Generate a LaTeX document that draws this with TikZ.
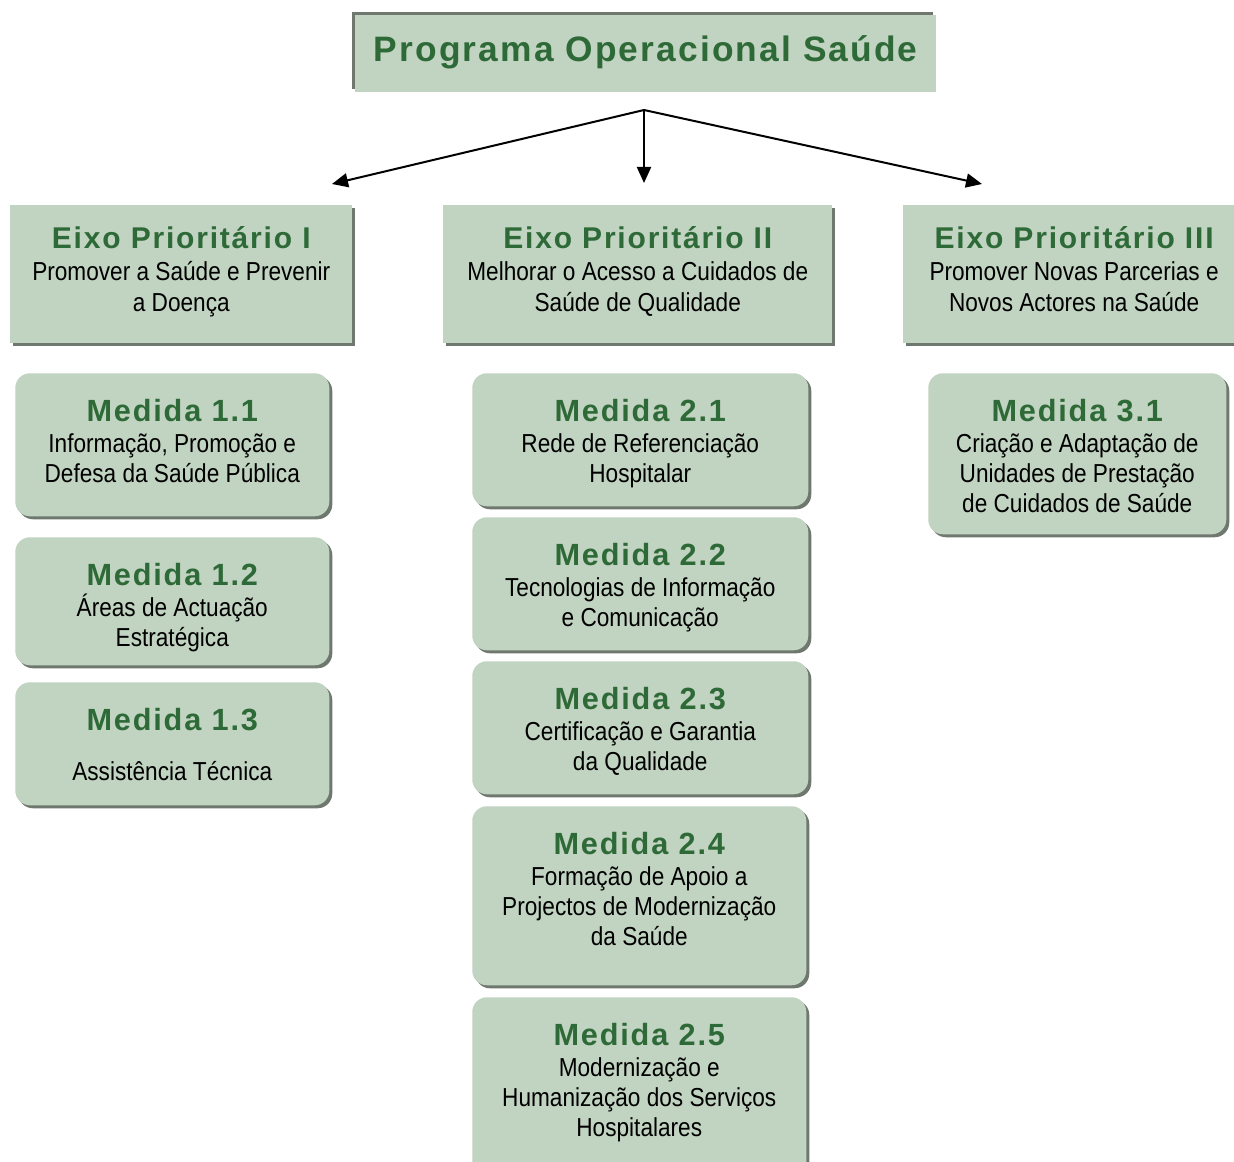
\documentclass[tikz,border=0pt]{standalone}
\usepackage{fontspec}
\setmainfont{Liberation Sans}
\newfontfamily\bodyfont[FakeStretch=0.87]{Liberation Sans}
\newfontfamily\headfont[LetterSpace=6]{Liberation Sans}
\newfontfamily\progfont[LetterSpace=6]{Liberation Sans}
\usetikzlibrary{arrows.meta,shadows}
\definecolor{boxfill}{HTML}{C1D3C1}
\definecolor{shadecol}{HTML}{6E786E}
\definecolor{hdgreen}{HTML}{2E6A37}
\newcommand{\progtitle}[1]{{\progfont\bfseries\color{hdgreen}\fontsize{26.5}{28}\selectfont #1}}
\newcommand{\eixotitle}[1]{{\headfont\bfseries\color{hdgreen}\fontsize{22.5}{22.8}\selectfont #1}}
\newcommand{\medtitle}[1]{{\headfont\bfseries\color{hdgreen}\fontsize{23}{22.8}\selectfont #1}}
\tikzset{
  basebox/.style={fill=boxfill, draw=none, inner sep=0pt, anchor=north west},
  mainbox/.style={basebox, align=center, text depth=8pt, font=\bodyfont,
    drop shadow={shadow xshift=-2.25pt, shadow yshift=2.25pt, fill=shadecol, opacity=1}},
  eixobox/.style={basebox, drop shadow={shadow xshift=2.25pt, shadow yshift=-2.25pt, fill=shadecol, opacity=1}},
  medbox/.style={basebox, rounded corners=11pt, drop shadow={shadow xshift=2.25pt, shadow yshift=-2.25pt, fill=shadecol, opacity=1}},
  boxtext/.style={inner sep=0pt, align=center, anchor=north, text=black,
    font=\bodyfont\fontsize{19.5}{22.8}\selectfont},
  eixotext/.style={boxtext, yshift=-15.9pt},
  medtext/.style={boxtext, yshift=-19.2pt},
  conn/.style={line width=1.5pt, -{Triangle[length=12pt, width=10.5pt]}},
}
\begin{document}
\begin{tikzpicture}[x=0.75pt,y=-0.75pt]
\useasboundingbox (0,0) rectangle (1234,1162);

% main title
\node[mainbox, minimum width=581*0.75pt, minimum height=77*0.75pt] (prog) at (355,15)
  {\progtitle{Programa Operacional Saúde}};

% axes
\node[eixobox, minimum width=342*0.75pt, minimum height=138*0.75pt] (e1) at (10,205) {};
\node[eixotext] (e1t) at (e1.north)
  {\eixotitle{Eixo Prioritário I}\\[1.5pt]Promover a Saúde e Prevenir\\a Doença};
\node[eixobox, minimum width=389*0.75pt, minimum height=138*0.75pt] (e2) at (443,205) {};
\node[eixotext] (e2t) at (e2.north)
  {\eixotitle{Eixo Prioritário II}\\[1.5pt]Melhorar o Acesso a Cuidados de\\Saúde de Qualidade};
\node[eixobox, minimum width=335*0.75pt, minimum height=138*0.75pt] (e3) at (903,205) {};
\node[eixotext, xshift=2.5pt] (e3t) at (e3.north)
  {\eixotitle{Eixo Prioritário III}\\[1.5pt]Promover Novas Parcerias e\\Novos Actores na Saúde};

% arrows
\coordinate (hub) at (644,110);
\coordinate (t1) at (332,184);
\coordinate (t2) at (644,183);
\coordinate (t3) at (982,184);
\draw[conn] (hub) -- (t1);
\draw[conn] (hub) -- (t2);
\draw[conn] (hub) -- (t3);

% measures axis 1
\node[medbox, minimum width=314*0.75pt, minimum height=143*0.75pt] (m11) at (15,373) {};
\node[medtext] (m11t) at (m11.north)
  {\medtitle{Medida 1.1}\\[0.5pt]Informação, Promoção e\\Defesa da Saúde Pública};
\node[medbox, minimum width=314*0.75pt, minimum height=128*0.75pt] (m12) at (15,537) {};
\node[medtext] (m12t) at (m12.north)
  {\medtitle{Medida 1.2}\\[0.5pt]Áreas de Actuação\\Estratégica};
\node[medbox, minimum width=314*0.75pt, minimum height=123*0.75pt] (m13) at (15,682) {};
\node[medtext] (m13t) at (m13.north)
  {\medtitle{Medida 1.3}\\[15pt]Assistência Técnica};

% measures axis 2
\node[medbox, minimum width=336*0.75pt, minimum height=133*0.75pt] (m21) at (472,373) {};
\node[medtext] (m21t) at (m21.north)
  {\medtitle{Medida 2.1}\\[0.5pt]Rede de Referenciação\\Hospitalar};
\node[medbox, minimum width=336*0.75pt, minimum height=133*0.75pt] (m22) at (472,517) {};
\node[medtext] (m22t) at (m22.north)
  {\medtitle{Medida 2.2}\\[0.5pt]Tecnologias de Informação\\e Comunicação};
\node[medbox, minimum width=336*0.75pt, minimum height=133*0.75pt] (m23) at (472,661) {};
\node[medtext] (m23t) at (m23.north)
  {\medtitle{Medida 2.3}\\[0.5pt]Certificação e Garantia\\da Qualidade};
\node[medbox, minimum width=334*0.75pt, minimum height=179*0.75pt] (m24) at (472,806) {};
\node[medtext] (m24t) at (m24.north)
  {\medtitle{Medida 2.4}\\[0.5pt]Formação de Apoio a\\Projectos de Modernização\\da Saúde};
\node[medbox, minimum width=334*0.75pt, minimum height=180*0.75pt] (m25) at (472,997) {};
\node[medtext] (m25t) at (m25.north)
  {\medtitle{Medida 2.5}\\[0.5pt]Modernização e\\Humanização dos Serviços\\Hospitalares};

% measures axis 3
\node[medbox, minimum width=298*0.75pt, minimum height=161*0.75pt] (m31) at (928,373) {};
\node[medtext] (m31t) at (m31.north)
  {\medtitle{Medida 3.1}\\[0.5pt]Criação e Adaptação de\\Unidades de Prestação\\de Cuidados de Saúde};
\end{tikzpicture}
\end{document}
